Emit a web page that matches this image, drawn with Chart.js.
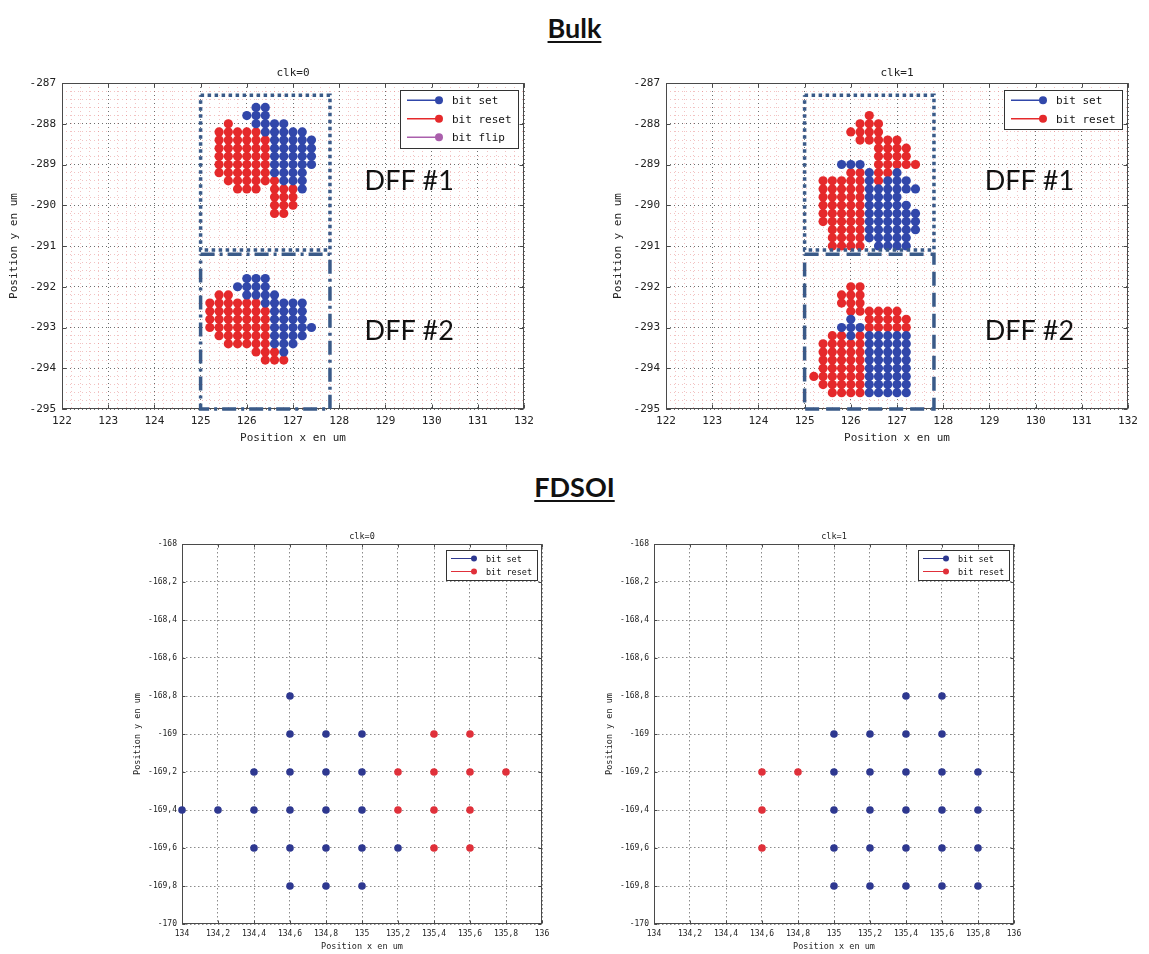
<!DOCTYPE html>
<html>
<head>
<meta charset="utf-8">
<script src="https://cdn.jsdelivr.net/npm/chart.js@4.4.1/dist/chart.umd.min.js"></script>
<style>
  html, body { margin: 0; padding: 0; background: #fff; }
  body { width: 1149px; height: 954px; position: relative; overflow: hidden; }
  .head { position: absolute; left: 0; width: 1149px; text-align: center;
          font: bold 27px Lato, "Liberation Sans", sans-serif; color: #111;
          text-decoration: underline; text-underline-offset: 3px; line-height: 32px; }
  .panel { position: absolute; }
</style>
</head>
<body>
<div class="head" style="top:12px">Bulk</div>
<div class="head" style="top:471px">FDSOI</div>
<div class="panel" style="left:0;top:60px;width:540px;height:390px"><canvas id="bulk0"></canvas></div>
<div class="panel" style="left:604px;top:60px;width:540px;height:390px"><canvas id="bulk1"></canvas></div>
<div class="panel" style="left:120px;top:525px;width:440px;height:429px"><canvas id="fdsoi0"></canvas></div>
<div class="panel" style="left:592px;top:525px;width:440px;height:429px"><canvas id="fdsoi1"></canvas></div>
<script>
// ---------- Bulk: upset positions, rows of [y, [x, ...]] (um) ----------
const bulkClk0Set = [
  [-287.6, [126.2, 126.4]],
  [-287.8, [126.0, 126.2, 126.4]],
  [-288.0, [126.2, 126.4, 126.6, 126.8]],
  [-288.2, [126.4, 126.6, 126.8, 127.0, 127.2]],
  [-288.4, [126.6, 126.8, 127.0, 127.2, 127.4]],
  [-288.6, [126.6, 126.8, 127.0, 127.2, 127.4]],
  [-288.8, [126.6, 126.8, 127.0, 127.2, 127.4]],
  [-289.0, [126.6, 126.8, 127.0, 127.2, 127.4]],
  [-289.2, [126.6, 126.8, 127.0, 127.2]],
  [-289.4, [126.8, 127.0, 127.2]],
  [-289.6, [127.2]],
  [-291.8, [126.0, 126.2, 126.4]],
  [-292.0, [125.8, 126.0, 126.2, 126.4]],
  [-292.2, [126.0, 126.2, 126.4, 126.6]],
  [-292.4, [126.4, 126.6, 126.8, 127.0, 127.2]],
  [-292.6, [126.6, 126.8, 127.0, 127.2]],
  [-292.8, [126.6, 126.8, 127.0, 127.2]],
  [-293.0, [126.6, 126.8, 127.0, 127.2, 127.4]],
  [-293.2, [126.6, 126.8, 127.0, 127.2]],
  [-293.4, [126.6, 126.8, 127.0]],
  [-293.6, [126.8]]
];
const bulkClk0Reset = [
  [-288.0, [125.6]],
  [-288.2, [125.4, 125.6, 125.8, 126.0, 126.2]],
  [-288.4, [125.4, 125.6, 125.8, 126.0, 126.2, 126.4]],
  [-288.6, [125.4, 125.6, 125.8, 126.0, 126.2, 126.4]],
  [-288.8, [125.4, 125.6, 125.8, 126.0, 126.2, 126.4]],
  [-289.0, [125.4, 125.6, 125.8, 126.0, 126.2, 126.4]],
  [-289.2, [125.4, 125.6, 125.8, 126.0, 126.2, 126.4]],
  [-289.4, [125.6, 125.8, 126.0, 126.2, 126.4, 126.6]],
  [-289.6, [125.8, 126.0, 126.2, 126.6, 126.8, 127.0]],
  [-289.8, [126.6, 126.8, 127.0]],
  [-290.0, [126.6, 126.8, 127.0]],
  [-290.2, [126.6, 126.8]],
  [-292.2, [125.4, 125.6]],
  [-292.4, [125.2, 125.4, 125.6, 125.8, 126.0, 126.2]],
  [-292.6, [125.2, 125.4, 125.6, 125.8, 126.0, 126.2, 126.4]],
  [-292.8, [125.2, 125.4, 125.6, 125.8, 126.0, 126.2, 126.4]],
  [-293.0, [125.2, 125.4, 125.6, 125.8, 126.0, 126.2, 126.4]],
  [-293.2, [125.4, 125.6, 125.8, 126.0, 126.2, 126.4]],
  [-293.4, [125.6, 125.8, 126.0, 126.2, 126.4]],
  [-293.6, [126.2, 126.4, 126.6]],
  [-293.8, [126.4, 126.6, 126.8]]
];
const bulkClk0Flip = [];

const bulkClk1Set = [
  [-289.0, [125.8, 126.0, 126.2]],
  [-289.2, [126.4, 127.0]],
  [-289.4, [126.4, 126.8, 127.0, 127.2]],
  [-289.6, [126.4, 126.6, 126.8, 127.0, 127.2, 127.4]],
  [-289.8, [126.4, 126.6, 126.8, 127.0]],
  [-290.0, [126.4, 126.6, 126.8, 127.0, 127.2]],
  [-290.2, [126.4, 126.6, 126.8, 127.0, 127.2, 127.4]],
  [-290.4, [126.4, 126.6, 126.8, 127.0, 127.2, 127.4]],
  [-290.6, [126.4, 126.6, 126.8, 127.0, 127.2, 127.4]],
  [-290.8, [126.4, 126.6, 126.8, 127.0, 127.2]],
  [-291.0, [126.6, 126.8, 127.0, 127.2]],
  [-292.8, [126.0]],
  [-293.0, [125.8, 126.0, 126.2]],
  [-293.2, [126.0, 126.4, 126.6, 126.8, 127.0, 127.2]],
  [-293.4, [126.4, 126.6, 126.8, 127.0, 127.2]],
  [-293.6, [126.4, 126.6, 126.8, 127.0, 127.2]],
  [-293.8, [126.4, 126.6, 126.8, 127.0, 127.2]],
  [-294.0, [126.4, 126.6, 126.8, 127.0, 127.2]],
  [-294.2, [126.4, 126.6, 126.8, 127.0, 127.2]],
  [-294.4, [126.4, 126.6, 126.8, 127.0, 127.2]],
  [-294.6, [126.4, 126.6, 126.8, 127.0, 127.2]]
];
const bulkClk1Reset = [
  [-287.8, [126.4]],
  [-288.0, [126.2, 126.4, 126.6]],
  [-288.2, [126.0, 126.2, 126.4, 126.6]],
  [-288.4, [126.2, 126.4, 126.6, 126.8, 127.0]],
  [-288.6, [126.6, 126.8, 127.0, 127.2]],
  [-288.8, [126.6, 126.8, 127.0, 127.2]],
  [-289.0, [126.6, 126.8, 127.0, 127.2, 127.4]],
  [-289.2, [126.0, 126.2, 126.6, 126.8]],
  [-289.4, [125.4, 125.6, 125.8, 126.0, 126.2, 126.6]],
  [-289.6, [125.4, 125.6, 125.8, 126.0, 126.2]],
  [-289.8, [125.4, 125.6, 125.8, 126.0, 126.2]],
  [-290.0, [125.4, 125.6, 125.8, 126.0, 126.2]],
  [-290.2, [125.4, 125.6, 125.8, 126.0, 126.2]],
  [-290.4, [125.4, 125.6, 125.8, 126.0, 126.2]],
  [-290.6, [125.6, 125.8, 126.0, 126.2]],
  [-290.8, [125.6, 125.8, 126.0, 126.2]],
  [-291.0, [125.6, 125.8, 126.0, 126.2]],
  [-292.0, [126.0, 126.2]],
  [-292.2, [125.8, 126.0, 126.2]],
  [-292.4, [125.8, 126.0, 126.2]],
  [-292.6, [126.0, 126.2, 126.4, 126.6, 126.8, 127.0]],
  [-292.8, [126.4, 126.6, 126.8, 127.0, 127.2]],
  [-293.0, [126.4, 126.6, 126.8, 127.0, 127.2]],
  [-293.2, [125.6, 125.8, 126.2]],
  [-293.4, [125.4, 125.6, 125.8, 126.0, 126.2]],
  [-293.6, [125.4, 125.6, 125.8, 126.0, 126.2]],
  [-293.8, [125.4, 125.6, 125.8, 126.0, 126.2]],
  [-294.0, [125.4, 125.6, 125.8, 126.0, 126.2]],
  [-294.2, [125.2, 125.4, 125.6, 125.8, 126.0, 126.2]],
  [-294.4, [125.4, 125.6, 125.8, 126.0, 126.2]],
  [-294.6, [125.6, 125.8, 126.0, 126.2]]
];

// Flip-flop regions outlined on the bulk maps (um)
const dff1Region = { x: [125, 127.8], y: [-291.1, -287.3] };
const dff2Region = { x: [125, 127.8], y: [-295, -291.2] };

// ---------- FDSOI: upset positions, rows of [y, [x, ...]] (um) ----------
const fdsoiClk0Set = [
  [-168.8, [134.6]],
  [-169.0, [134.6, 134.8, 135.0]],
  [-169.2, [134.4, 134.6, 134.8, 135.0]],
  [-169.4, [134.0, 134.2, 134.4, 134.6, 134.8, 135.0]],
  [-169.6, [134.4, 134.6, 134.8, 135.0, 135.2]],
  [-169.8, [134.6, 134.8, 135.0]]
];
const fdsoiClk0Reset = [
  [-169.0, [135.4, 135.6]],
  [-169.2, [135.2, 135.4, 135.6, 135.8]],
  [-169.4, [135.2, 135.4, 135.6]],
  [-169.6, [135.4, 135.6]]
];
const fdsoiClk1Set = [
  [-168.8, [135.4, 135.6]],
  [-169.0, [135.0, 135.2, 135.4, 135.6]],
  [-169.2, [135.0, 135.2, 135.4, 135.6, 135.8]],
  [-169.4, [135.0, 135.2, 135.4, 135.6, 135.8]],
  [-169.6, [135.0, 135.2, 135.4, 135.6, 135.8]],
  [-169.8, [135.0, 135.2, 135.4, 135.6, 135.8]]
];
const fdsoiClk1Reset = [
  [-169.2, [134.6, 134.8]],
  [-169.4, [134.6]],
  [-169.6, [134.6]]
];

// ---------- Tick values ----------
const bulkXTicks = [122, 123, 124, 125, 126, 127, 128, 129, 130, 131, 132];
const bulkYTicks = [-295, -294, -293, -292, -291, -290, -289, -288, -287];
const bulkMinorStep = 0.2;
const fdsoiXTicks = [134, 134.2, 134.4, 134.6, 134.8, 135, 135.2, 135.4, 135.6, 135.8, 136];
const fdsoiYTicks = [-170, -169.8, -169.6, -169.4, -169.2, -169, -168.8, -168.6, -168.4, -168.2, -168];

// ---------- helpers ----------
const MONO = '"DejaVu Sans Mono", "Liberation Mono", monospace';
const BLUE_BULK = '#3147aa', RED_BULK = '#e5292b', FLIP = '#aa5fac';
const BLUE_FD = '#2e3890', RED_FD = '#e0303a';
const BOX = '#3a5a88';

const round1 = v => Math.round(v * 10) / 10;
const toPoints = rows => rows.flatMap(([y, xs]) => xs.map(x => ({ x, y })));
const outline = r => [
  { x: r.x[0], y: r.y[1] }, { x: r.x[1], y: r.y[1] }, { x: r.x[1], y: r.y[0] },
  { x: r.x[0], y: r.y[0] }, { x: r.x[0], y: r.y[1] }
];
const stepTicks = (lo, hi, step) => {
  const out = [];
  for (let i = 0; lo + i * step <= hi + 1e-9; i++) out.push({ value: round1(lo + i * step) });
  return out;
};
const comma = v => String(round1(v)).replace('.', ',');

function line(ctx, x0, y0, x1, y1) { ctx.beginPath(); ctx.moveTo(x0, y0); ctx.lineTo(x1, y1); ctx.stroke(); }

// Frame, inward ticks, panel title, notes and in-axes legend
const panelPlugin = {
  id: 'panel',
  beforeDatasetsDraw(chart, _args, o) {
    const { ctx, chartArea: a, scales } = chart;
    ctx.save();
    ctx.strokeStyle = '#4a4a4a';
    ctx.lineWidth = 1;
    const L = Math.round(a.left) + 0.5, R = Math.round(a.right) - 0.5;
    const T = Math.round(a.top) + 0.5, B = Math.round(a.bottom) - 0.5;
    ctx.strokeRect(L, T, R - L, B - T);
    const tl = o.tickLen;
    o.xMarks.forEach(v => {
      const px = Math.round(scales.x.getPixelForValue(v)) + 0.5;
      line(ctx, px, B, px, B - tl); line(ctx, px, T, px, T + tl);
    });
    o.yMarks.forEach(v => {
      const py = Math.round(scales.y.getPixelForValue(v)) + 0.5;
      line(ctx, L, py, L + tl, py); line(ctx, R, py, R - tl, py);
    });
    ctx.restore();
  },
  afterDatasetsDraw(chart, _args, o) {
    const { ctx, chartArea: a, scales } = chart;
    ctx.save();
    // title
    ctx.font = o.titleFont;
    ctx.fillStyle = '#222';
    ctx.textAlign = 'center';
    ctx.textBaseline = 'bottom';
    ctx.fillText(o.title, (a.left + a.right) / 2, a.top - o.titleGap);
    // notes
    if (o.notes) {
      ctx.font = o.noteFont;
      ctx.fillStyle = '#111';
      ctx.textAlign = 'left';
      ctx.textBaseline = 'middle';
      o.notes.forEach(n => ctx.fillText(n.text, scales.x.getPixelForValue(n.x), scales.y.getPixelForValue(n.y)));
    }
    // legend
    const items = chart.data.datasets.filter(d => d.label);
    const g = o.legend;
    ctx.font = g.font;
    const tw = Math.max(...items.map(d => ctx.measureText(d.label).width));
    const w = Math.round(g.textX + tw + g.padR), h = Math.round(g.rowH * items.length + g.padV);
    const x0 = Math.round(a.right - g.insetX - w), y0 = Math.round(a.top + g.insetY);
    ctx.fillStyle = '#fff';
    ctx.fillRect(x0, y0, w, h);
    ctx.strokeStyle = '#333';
    ctx.lineWidth = 1;
    ctx.strokeRect(x0 + 0.5, y0 + 0.5, w, h);
    items.forEach((d, i) => {
      const cy = y0 + g.padV / 2 + g.rowH * (i + 0.5);
      ctx.strokeStyle = d.backgroundColor;
      ctx.lineWidth = g.lineW;
      line(ctx, x0 + g.lineX0, cy, x0 + g.lineX1, cy);
      ctx.fillStyle = d.backgroundColor;
      ctx.beginPath(); ctx.arc(x0 + g.lineX1, cy, g.marker, 0, Math.PI * 2); ctx.fill();
      ctx.fillStyle = '#111';
      ctx.textAlign = 'left';
      ctx.textBaseline = 'middle';
      ctx.fillText(d.label, x0 + g.textX, cy + 1);
    });
    ctx.restore();
  }
};

function dots(label, rows, color, r) {
  return { label, data: toPoints(rows), backgroundColor: color, borderWidth: 0,
           pointRadius: r, pointHoverRadius: r, showLine: false, clip: false };
}
function frameLine(region, dash) {
  return { data: outline(region), showLine: true, pointRadius: 0, borderColor: BOX,
           borderWidth: 3.5, borderDash: dash, borderCapStyle: 'butt', fill: false, clip: false };
}

function bulkChart(id, title, dataSets, boxDash1, boxDash2, notes) {
  const isMajorX = v => bulkXTicks.includes(round1(v));
  const isMajorY = v => bulkYTicks.includes(round1(v));
  const gridColor = major => ctx => (ctx.tick && major(ctx.tick.value)) ? 'rgba(85,85,85,0.85)' : 'rgba(225,110,110,0.42)';
  return new Chart(document.getElementById(id), {
    type: 'scatter',
    data: { datasets: [
      frameLine(dff1Region, boxDash1),
      frameLine(dff2Region, boxDash2),
      ...dataSets
    ] },
    options: {
      responsive: true, maintainAspectRatio: false, animation: false,
      layout: { padding: { top: 23, right: 16, left: 0, bottom: 0 } },
      plugins: {
        legend: { display: false }, tooltip: { enabled: false },
        panel: {
          title, titleFont: '11px ' + MONO, titleGap: 4, tickLen: 4,
          xMarks: bulkXTicks, yMarks: bulkYTicks,
          notes, noteFont: '27px Lato, "Liberation Sans", sans-serif',
          legend: { font: '11px ' + MONO, rowH: 18.5, padV: 2, padR: 6, insetX: 6, insetY: 7,
                    lineX0: 7, lineX1: 39, textX: 52, marker: 4, lineW: 1.5 }
        }
      },
      scales: {
        x: {
          type: 'linear', min: 122, max: 132,
          afterBuildTicks: s => { s.ticks = stepTicks(122, 132, bulkMinorStep); },
          afterFit: s => { s.height = 41; },
          ticks: { autoSkip: false, maxRotation: 0, minRotation: 0, padding: 6, color: '#222',
                   font: { family: MONO, size: 11 },
                   callback: v => isMajorX(v) ? String(round1(v)) : '' },
          grid: { drawTicks: false, lineWidth: 1, color: gridColor(isMajorX) },
          border: { display: false, dash: [1, 3] },
          title: { display: true, text: 'Position x en um', color: '#222',
                   font: { family: MONO, size: 11 }, padding: { top: 0, bottom: 5 } }
        },
        y: {
          type: 'linear', min: -295, max: -287,
          afterBuildTicks: s => { s.ticks = stepTicks(-295, -287, bulkMinorStep); },
          afterFit: s => { s.width = 62; },
          ticks: { autoSkip: false, padding: 6, color: '#222', font: { family: MONO, size: 11 },
                   callback: v => isMajorY(v) ? String(round1(v)) : '' },
          grid: { drawTicks: false, lineWidth: 1, color: gridColor(isMajorY) },
          border: { display: false, dash: [1, 3] },
          title: { display: true, text: 'Position y en um', color: '#222',
                   font: { family: MONO, size: 11 }, padding: { top: 8, bottom: 0 } }
        }
      }
    },
    plugins: [panelPlugin]
  });
}

function fdsoiChart(id, title, dataSets) {
  return new Chart(document.getElementById(id), {
    type: 'scatter',
    data: { datasets: dataSets },
    options: {
      responsive: true, maintainAspectRatio: false, animation: false,
      layout: { padding: { top: 19, right: 18, left: 0, bottom: 0 } },
      plugins: {
        legend: { display: false }, tooltip: { enabled: false },
        panel: {
          title, titleFont: '8.5px ' + MONO, titleGap: 3, tickLen: 3,
          xMarks: fdsoiXTicks, yMarks: fdsoiYTicks,
          legend: { font: '8.5px ' + MONO, rowH: 13, padV: 4, padR: 5, insetX: 5, insetY: 6,
                    lineX0: 5, lineX1: 28, textX: 40, marker: 3, lineW: 1 }
        }
      },
      scales: {
        x: {
          type: 'linear', min: 134, max: 136,
          afterBuildTicks: s => { s.ticks = fdsoiXTicks.map(value => ({ value })); },
          afterFit: s => { s.height = 30; },
          ticks: { autoSkip: false, maxRotation: 0, minRotation: 0, padding: 5, color: '#222',
                   font: { family: MONO, size: 8 }, callback: v => comma(v) },
          grid: { drawTicks: false, lineWidth: 1, color: 'rgba(110,110,110,0.8)' },
          border: { display: false, dash: [1.5, 2.5] },
          title: { display: true, text: 'Position x en um', color: '#222',
                   font: { family: MONO, size: 8.5 }, padding: { top: 0, bottom: 2 } }
        },
        y: {
          type: 'linear', min: -170, max: -168,
          afterBuildTicks: s => { s.ticks = fdsoiYTicks.map(value => ({ value })); },
          afterFit: s => { s.width = 62; },
          ticks: { autoSkip: false, padding: 5, color: '#222', font: { family: MONO, size: 8 },
                   callback: v => comma(v) },
          grid: { drawTicks: false, lineWidth: 1, color: 'rgba(110,110,110,0.8)' },
          border: { display: false, dash: [1.5, 2.5] },
          title: { display: true, text: 'Position y en um', color: '#222',
                   font: { family: MONO, size: 8.5 }, padding: { top: 13, bottom: 0 } }
        }
      }
    },
    plugins: [panelPlugin]
  });
}

bulkChart('bulk0', 'clk=0', [
  dots('bit set', bulkClk0Set, BLUE_BULK, 4.6),
  dots('bit reset', bulkClk0Reset, RED_BULK, 4.6),
  dots('bit flip', bulkClk0Flip, FLIP, 4.6)
], [3.5, 3.5], [14, 5, 3, 5], [
  { text: 'DFF #1', x: 128.55, y: -289.4 },
  { text: 'DFF #2', x: 128.55, y: -293.1 }
]);

bulkChart('bulk1', 'clk=1', [
  dots('bit set', bulkClk1Set, BLUE_BULK, 4.6),
  dots('bit reset', bulkClk1Reset, RED_BULK, 4.6)
], [3.5, 3.5], [14, 7], [
  { text: 'DFF #1', x: 128.9, y: -289.4 },
  { text: 'DFF #2', x: 128.9, y: -293.1 }
]);

fdsoiChart('fdsoi0', 'clk=0', [
  dots('bit set', fdsoiClk0Set, BLUE_FD, 3.8),
  dots('bit reset', fdsoiClk0Reset, RED_FD, 3.8)
]);

fdsoiChart('fdsoi1', 'clk=1', [
  dots('bit set', fdsoiClk1Set, BLUE_FD, 3.8),
  dots('bit reset', fdsoiClk1Reset, RED_FD, 3.8)
]);
</script>
</body>
</html>
